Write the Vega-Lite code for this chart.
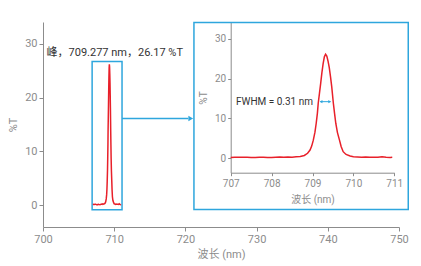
{
  "$schema": "https://vega.github.io/schema/vega-lite/v6.json",
  "width": 356,
  "height": 205,
  "autosize": "none",
  "padding": {"left": 43, "top": 22, "right": 22, "bottom": 39},
  "config": {
    "view": {"stroke": null},
    "font": "Roboto, 'Noto Sans CJK SC', sans-serif",
    "axis": {
      "grid": false,
      "labelColor": "#8c8c8c",
      "titleColor": "#8c8c8c",
      "domainColor": "#8c8c8c",
      "tickColor": "#8c8c8c",
      "titleFontWeight": "normal",
      "labelFlush": false,
      "labelOverlap": false,
      "labelFont": "Roboto, 'Noto Sans CJK SC', sans-serif",
      "titleFont": "Roboto, 'Noto Sans CJK SC', sans-serif"
    }
  },
  "datasets": {
    "spectrum": [
      {"wl": 707.0, "t": 0.15}, {"wl": 707.1, "t": 0.2}, {"wl": 707.2, "t": 0.18}, {"wl": 707.3, "t": 0.22},
      {"wl": 707.4, "t": 0.2}, {"wl": 707.5, "t": 0.15}, {"wl": 707.6, "t": 0.1}, {"wl": 707.7, "t": 0.18},
      {"wl": 707.8, "t": 0.2}, {"wl": 707.9, "t": 0.15}, {"wl": 708.0, "t": 0.12}, {"wl": 708.1, "t": 0.2},
      {"wl": 708.2, "t": 0.25}, {"wl": 708.3, "t": 0.2}, {"wl": 708.4, "t": 0.28}, {"wl": 708.5, "t": 0.22},
      {"wl": 708.6, "t": 0.3}, {"wl": 708.7, "t": 0.38}, {"wl": 708.8, "t": 0.65}, {"wl": 708.88, "t": 1.2},
      {"wl": 708.94, "t": 2.0}, {"wl": 708.98, "t": 3.0}, {"wl": 709.02, "t": 4.5}, {"wl": 709.06, "t": 6.5},
      {"wl": 709.09, "t": 8.7}, {"wl": 709.12, "t": 11.3}, {"wl": 709.14, "t": 13.8}, {"wl": 709.17, "t": 16.3},
      {"wl": 709.2, "t": 18.8}, {"wl": 709.23, "t": 21.5}, {"wl": 709.26, "t": 23.8}, {"wl": 709.29, "t": 25.5},
      {"wl": 709.32, "t": 26.17}, {"wl": 709.35, "t": 25.7}, {"wl": 709.38, "t": 24.4}, {"wl": 709.41, "t": 22.8},
      {"wl": 709.44, "t": 20.5}, {"wl": 709.47, "t": 18.0}, {"wl": 709.51, "t": 13.8}, {"wl": 709.54, "t": 11.2},
      {"wl": 709.57, "t": 8.7}, {"wl": 709.61, "t": 6.4}, {"wl": 709.66, "t": 4.5}, {"wl": 709.7, "t": 2.9},
      {"wl": 709.75, "t": 1.6}, {"wl": 709.82, "t": 0.9}, {"wl": 709.92, "t": 0.5}, {"wl": 710.0, "t": 0.3},
      {"wl": 710.1, "t": 0.25}, {"wl": 710.2, "t": 0.2}, {"wl": 710.3, "t": 0.25}, {"wl": 710.4, "t": 0.2},
      {"wl": 710.5, "t": 0.22}, {"wl": 710.6, "t": 0.18}, {"wl": 710.7, "t": 0.3}, {"wl": 710.8, "t": 0.2},
      {"wl": 710.9, "t": 0.15}, {"wl": 710.95, "t": 0.2}
    ]
  },
  "layer": [
    {
      "layer": [
        {
          "data": {"values": [{"x0": 706.9, "x1": 711.1, "y0": -0.8, "y1": 26.7}, {"x0": 721.2, "x1": 751.3, "y0": -0.75, "y1": 33.9}]},
          "mark": {"type": "rect", "filled": false, "color": "#2ea6dd", "strokeWidth": 1.5},
          "encoding": {
            "x": {"field": "x0", "type": "quantitative", "scale": {"domain": [700, 750], "nice": false, "zero": false}, "title": "波长 (nm)"},
            "x2": {"field": "x1"},
            "y": {"field": "y0", "type": "quantitative", "scale": {"domain": [-4, 34], "nice": false, "zero": false}, "title": "%T"},
            "y2": {"field": "y1"}
          }
        },
        {
          "data": {"values": [{"x0": 711.1, "x1": 720.4, "y": 16.1}]},
          "mark": {"type": "rule", "color": "#2ea6dd", "strokeWidth": 1.5},
          "encoding": {
            "x": {"field": "x0", "type": "quantitative", "title": "波长 (nm)"},
            "x2": {"field": "x1"},
            "y": {"field": "y", "type": "quantitative", "title": "%T"}
          }
        },
        {
          "data": {"values": [{"x": 720.75, "y": 16.1}]},
          "mark": {"type": "point", "shape": "triangle-right", "filled": true, "color": "#2ea6dd", "size": 30, "opacity": 1},
          "encoding": {
            "x": {"field": "x", "type": "quantitative", "title": "波长 (nm)"},
            "y": {"field": "y", "type": "quantitative", "title": "%T"}
          }
        },
        {
          "data": {"name": "spectrum"},
          "mark": {"type": "line", "color": "#e8202a", "strokeWidth": 1.5},
          "encoding": {
            "x": {"field": "wl", "type": "quantitative", "title": "波长 (nm)",
              "axis": {"values": [700, 710, 720, 730, 740, 750], "format": "d", "labelFontSize": 11, "titleFontSize": 11, "tickSize": 4, "labelPadding": 2, "titlePadding": 4}},
            "y": {"field": "t", "type": "quantitative", "title": "%T",
              "axis": {"values": [0, 10, 20, 30], "format": "d", "labelFontSize": 11, "titleFontSize": 11, "tickSize": 4, "labelPadding": 2, "titlePadding": 6}}
          }
        },
        {
          "data": {"values": [{"x": 700.5, "y": 28.3, "label": "峰，709.277 nm，26.17 %T"}]},
          "mark": {"type": "text", "align": "left", "baseline": "middle", "fontSize": 11, "color": "#333333"},
          "encoding": {
            "x": {"field": "x", "type": "quantitative", "title": "波长 (nm)"},
            "y": {"field": "y", "type": "quantitative", "title": "%T"},
            "text": {"field": "label"}
          }
        }
      ]
    },
    {
      "layer": [
        {
          "data": {"name": "spectrum"},
          "mark": {"type": "line", "color": "#e8202a", "strokeWidth": 1.5},
          "encoding": {
            "x": {"field": "wl", "type": "quantitative", "title": "波长 (nm)",
              "scale": {"domain": [707, 711], "range": [187.7, 351.3], "nice": false, "zero": false},
              "axis": {"orient": "bottom", "offset": -54.3, "values": [707, 708, 709, 710, 711], "format": "d", "labelFontSize": 10, "titleFontSize": 10, "tickSize": 3, "labelPadding": 3, "titlePadding": 6}},
            "y": {"field": "t", "type": "quantitative", "title": "%T",
              "scale": {"domain": [-3.7, 34.2], "range": [150.7, 0.3], "nice": false, "zero": false},
              "axis": {"orient": "left", "offset": -187.7, "values": [0, 10, 20, 30], "format": "d", "labelFontSize": 10, "titleFontSize": 10, "tickSize": 3, "labelPadding": 2, "titlePadding": 6}}
          }
        },
        {
          "data": {"values": [{"x": 707.13, "y": 14.2, "label": "FWHM = 0.31 nm"}]},
          "mark": {"type": "text", "align": "left", "baseline": "middle", "fontSize": 10, "color": "#333333"},
          "encoding": {
            "x": {"field": "x", "type": "quantitative", "title": "波长 (nm)"},
            "y": {"field": "y", "type": "quantitative", "title": "%T"},
            "text": {"field": "label"}
          }
        },
        {
          "data": {"values": [{"x0": 709.19, "x1": 709.44, "y": 14.2}]},
          "mark": {"type": "rule", "color": "#2ea6dd", "strokeWidth": 1},
          "encoding": {
            "x": {"field": "x0", "type": "quantitative", "title": "波长 (nm)"},
            "x2": {"field": "x1"},
            "y": {"field": "y", "type": "quantitative", "title": "%T"}
          }
        },
        {
          "data": {"values": [{"x": 709.21, "y": 14.2, "dir": "left"}, {"x": 709.42, "y": 14.2, "dir": "right"}]},
          "mark": {"type": "point", "filled": true, "color": "#2ea6dd", "size": 10, "opacity": 1},
          "encoding": {
            "x": {"field": "x", "type": "quantitative", "title": "波长 (nm)"},
            "y": {"field": "y", "type": "quantitative", "title": "%T"},
            "shape": {"field": "dir", "type": "nominal", "scale": {"domain": ["left", "right"], "range": ["triangle-left", "triangle-right"]}, "legend": null}
          }
        }
      ]
    }
  ],
  "resolve": {"scale": {"x": "independent", "y": "independent"}, "axis": {"x": "independent", "y": "independent"}}
}
